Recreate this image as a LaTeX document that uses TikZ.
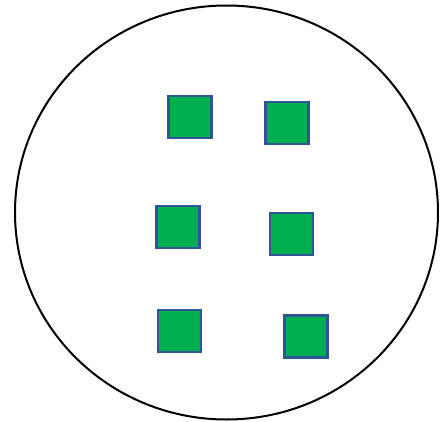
\documentclass[tikz,border=0pt]{standalone}
\usetikzlibrary{shapes.geometric}
\definecolor{sqgreen}{HTML}{00B050}
\definecolor{sqblue}{HTML}{2F5597}
\begin{document}
\begin{tikzpicture}[x=1pt,y=-1pt,
  sq/.style={draw=sqblue,fill=sqgreen,line width=2.5pt,minimum width=43pt,minimum height=42pt,inner sep=0pt,outer sep=0pt},
  rim/.style={draw=black,line width=2pt}]
\useasboundingbox (0,0) rectangle (445,421);
\node[rim,ellipse,minimum width=423pt,minimum height=414pt,inner sep=0pt] (c) at (226.5,212.5) {};
\node[sq] (s1) at (190,117) {};
\node[sq] (s2) at (287,123) {};
\node[sq] (s3) at (178,227) {};
\node[sq] (s4) at (291.5,234) {};
\node[sq] (s5) at (179.5,331) {};
\node[sq] (s6) at (306,336.5) {};
\end{tikzpicture}
\end{document}
